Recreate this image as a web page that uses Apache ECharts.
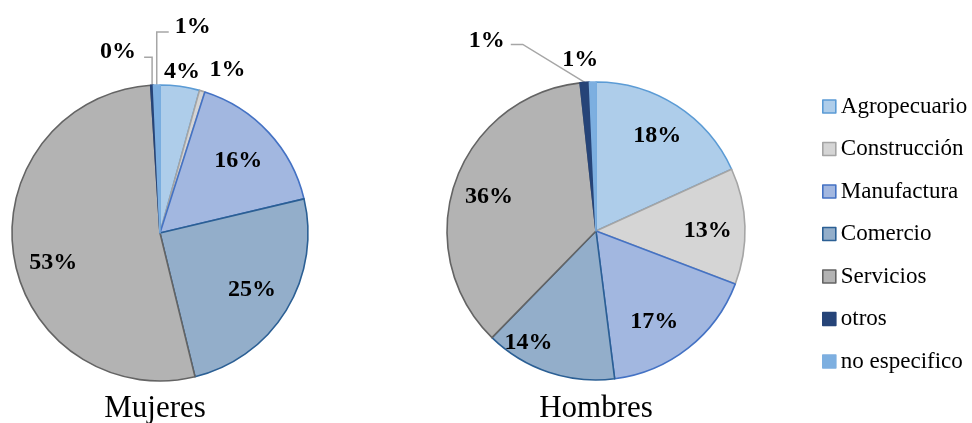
<!DOCTYPE html>
<html>
<head>
<meta charset="utf-8">
<script src="https://cdn.jsdelivr.net/npm/echarts@6/dist/echarts.min.js"></script>
<style>
  html, body { margin: 0; padding: 0; background: #ffffff; }
  #chart { width: 972px; height: 423px; }
</style>
</head>
<body>
<div id="chart"></div>
<script>
// Sector shares (%) by gender
const categories = ['Agropecuario', 'Construcción', 'Manufactura', 'Comercio', 'Servicios', 'otros', 'no especifico'];
const mujeres = [4.3, 0.6, 16.4, 24.9, 52.8, 0.3, 0.7];
const hombres = [18.2, 12.6, 17.2, 14.3, 36.0, 1.0, 0.7];
const pieTitles = ['Mujeres', 'Hombres'];

// Slice styling
const fills   = ['#AECDEA', '#D5D5D5', '#A2B7E0', '#93AECA', '#B3B3B3', '#264478', '#7DAFE0'];
const borders = ['#5B9BD5', '#A5A5A5', '#4472C4', '#2B5F94', '#646464', '#264478', '#7DAFE0'];

// Pie geometry (pixels)
const pies = [
  { cx: 160, cy: 233, r: 148 },
  { cx: 596, cy: 231, r: 149 }
];

// Label placement: k = radial factor, dx/dy = nudge, lead = leader line style
const mujeresLabelPos = [
  { k: 1.10 },
  { k: 1.10, dx: 21, dy: -7 },
  { k: 0.72 },
  { k: 0.73 },
  { k: 0.73, dy: 14 },
  { k: 1.0, dx: -34, dy: -33, lead: 'vertical' },
  { k: 1.0, dx: 36, dy: -58, lead: 'vertical' }
];
const hombresLabelPos = [
  { k: 0.76 },
  { k: 0.75, dy: 3 },
  { k: 0.74, dx: -10, dy: 4 },
  { k: 0.79, dx: -30 },
  { k: 0.76, dy: 3 },
  { k: 1.0, dx: -98, dy: -42, lead: 'diagonal' },
  { k: 1.15, dx: -12 }
];

function midAngles(values) {
  const total = values.reduce((a, b) => a + b, 0);
  let acc = 0;
  return values.map(v => {
    const a = (acc + v / 2) / total * 2 * Math.PI;
    acc += v;
    return a;
  });
}

function makeLayout(values, pie, placement) {
  const mids = midAngles(values);
  return function (params) {
    const i = params.dataIndex;
    const p = placement[i];
    const a = mids[i];
    const bx = pie.cx + p.k * pie.r * Math.sin(a);
    const by = pie.cy - p.k * pie.r * Math.cos(a);
    const x = bx + (p.dx || 0);
    const y = by + (p.dy || 0);
    const out = { x: x, y: y, align: 'center', verticalAlign: 'middle' };
    if (p.lead) {
      const ax = pie.cx + pie.r * Math.sin(a);
      const ay = pie.cy - pie.r * Math.cos(a);
      const ly = y + 5;
      if (p.lead === 'vertical') {
        const ex = x < ax ? x + 26 : x - 24;
        out.labelLinePoints = [[ax, ay], [ax, ly], [ex, ly]];
      } else {
        out.labelLinePoints = [[ax, ay], [x + 36, y + 4], [x + 24, y + 4]];
      }
    }
    return out;
  };
}

function buildData(values, placement) {
  return categories.map((name, i) => {
    const p = placement[i];
    const small = p.k >= 1;
    return {
      name: name,
      value: values[i],
      itemStyle: { color: fills[i], borderColor: borders[i] },
      label: { position: small ? 'outside' : 'inside' },
      labelLine: {
        show: !!p.lead,
        lineStyle: { color: '#A6A6A6', width: 1.5 }
      }
    };
  });
}

function pieSeries(values, pie, placement) {
  return {
    type: 'pie',
    center: [pie.cx, pie.cy],
    radius: [0, pie.r],
    startAngle: 90,
    clockwise: true,
    avoidLabelOverlap: false,
    silent: true,
    itemStyle: { borderWidth: 1.6 },
    label: {
      show: true,
      formatter: p => Math.round(p.percent) + '%',
      fontFamily: 'Liberation Serif',
      fontWeight: 'bold',
      fontSize: 24,
      color: '#000000'
    },
    labelLayout: makeLayout(values, pie, placement),
    data: buildData(values, placement)
  };
}

const chart = echarts.init(document.getElementById('chart'), null, { renderer: 'canvas' });
chart.setOption({
  animation: false,
  backgroundColor: '#ffffff',
  legend: {
    orient: 'vertical',
    left: 817,
    top: 90,
    icon: 'rect',
    itemWidth: 13,
    itemHeight: 13,
    itemGap: 19.5,
    selectedMode: false,
    data: categories,
    itemStyle: { borderWidth: 1.6 },
    textStyle: { fontFamily: 'Liberation Serif', fontSize: 23, color: '#000000' }
  },
  graphic: pies.map((pie, i) => ({
    type: 'text',
    x: pie.cx - 5 + i * 5,
    y: pie.cy + 176 + i * 2,
    style: {
      text: pieTitles[i],
      font: '31px "Liberation Serif"',
      fill: '#000000',
      textAlign: 'center',
      textVerticalAlign: 'middle'
    }
  })),
  series: [
    pieSeries(mujeres, pies[0], mujeresLabelPos),
    pieSeries(hombres, pies[1], hombresLabelPos)
  ]
});
</script>
</body>
</html>
